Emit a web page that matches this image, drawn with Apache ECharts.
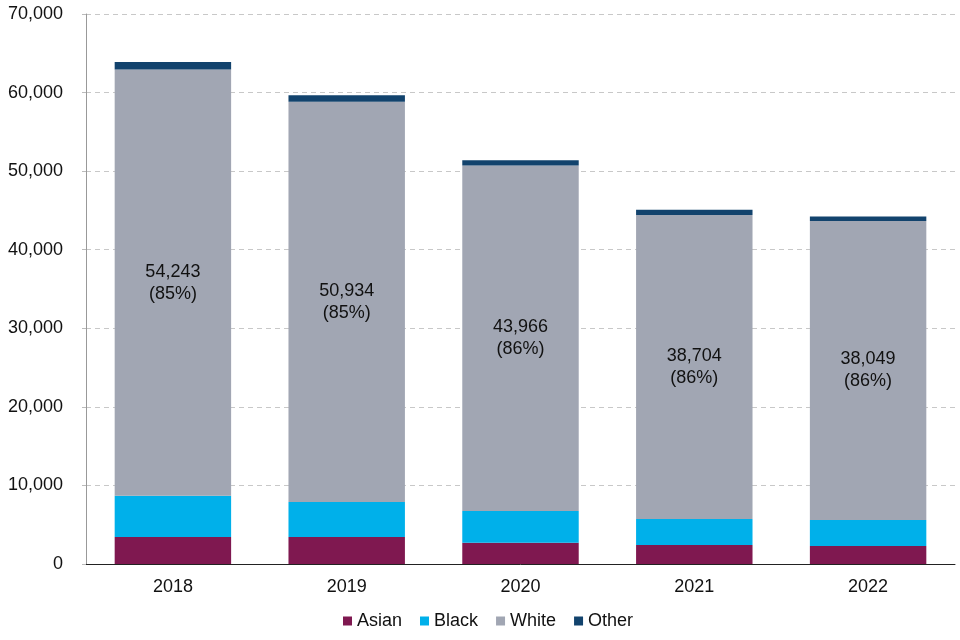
<!DOCTYPE html>
<html>
<head>
<meta charset="utf-8">
<script src="https://cdn.jsdelivr.net/npm/echarts@6/dist/echarts.min.js"></script>
<style>html,body{margin:0;padding:0;background:#fff;}#c{width:960px;height:640px;}</style>
</head>
<body>
<div id="c"></div>
<script>
const categories = ['2018', '2019', '2020', '2021', '2022'];
const asian = [3440, 3440, 2710, 2420, 2290];
const black = [5250, 4450, 4040, 3310, 3310];
const white = [54243, 50934, 43966, 38704, 38049];
const other = [950, 850, 680, 640, 580];
const whitePct = ['85%', '85%', '86%', '86%', '86%'];
const yTicks = { min: 0, max: 70000, interval: 10000 };

const font = 'Liberation Sans, Arial, sans-serif';
const chart = echarts.init(document.getElementById('c'));
const mk = (name, data, color, label) => ({
  name, type: 'bar', stack: 'total', data, barWidth: '67%',
  itemStyle: { color },
  label: label || { show: false },
  emphasis: { disabled: true }
});
chart.setOption({
  animation: false,
  textStyle: { fontFamily: font },
  grid: { left: 86, right: 5, top: 14, bottom: 76 },
  legend: {
    top: 607, left: 338, itemWidth: 9, itemHeight: 9, itemGap: 18,
    icon: 'rect',
    textStyle: { fontFamily: font, fontSize: 18, color: '#111' },
    data: ['Asian', 'Black', 'White', 'Other']
  },
  xAxis: {
    type: 'category', data: categories,
    axisLine: { lineStyle: { color: '#222', width: 1 } },
    axisTick: { show: false },
    axisLabel: { fontFamily: font, fontSize: 18, color: '#111', margin: 14 }
  },
  yAxis: {
    type: 'value', min: yTicks.min, max: yTicks.max, interval: yTicks.interval,
    axisLine: { show: true, lineStyle: { color: '#999' } },
    axisTick: { show: true, length: 4, lineStyle: { color: '#bbb' } },
    splitLine: { lineStyle: { color: '#c8c8c8', type: [5, 4] } },
    axisLabel: {
      fontFamily: font, fontSize: 18, color: '#111', margin: 23,
      formatter: v => v.toLocaleString('en-US')
    }
  },
  series: [
    mk('Asian', asian, '#7f1850'),
    mk('Black', black, '#00b0ea'),
    mk('White', white, '#a1a6b3', {
      show: true, position: 'inside', fontFamily: font, fontSize: 18, color: '#111',
      lineHeight: 22,
      formatter: p => p.value.toLocaleString('en-US') + '\n(' + whitePct[p.dataIndex] + ')'
    }),
    mk('Other', other, '#12436d')
  ]
});
</script>
</body>
</html>
